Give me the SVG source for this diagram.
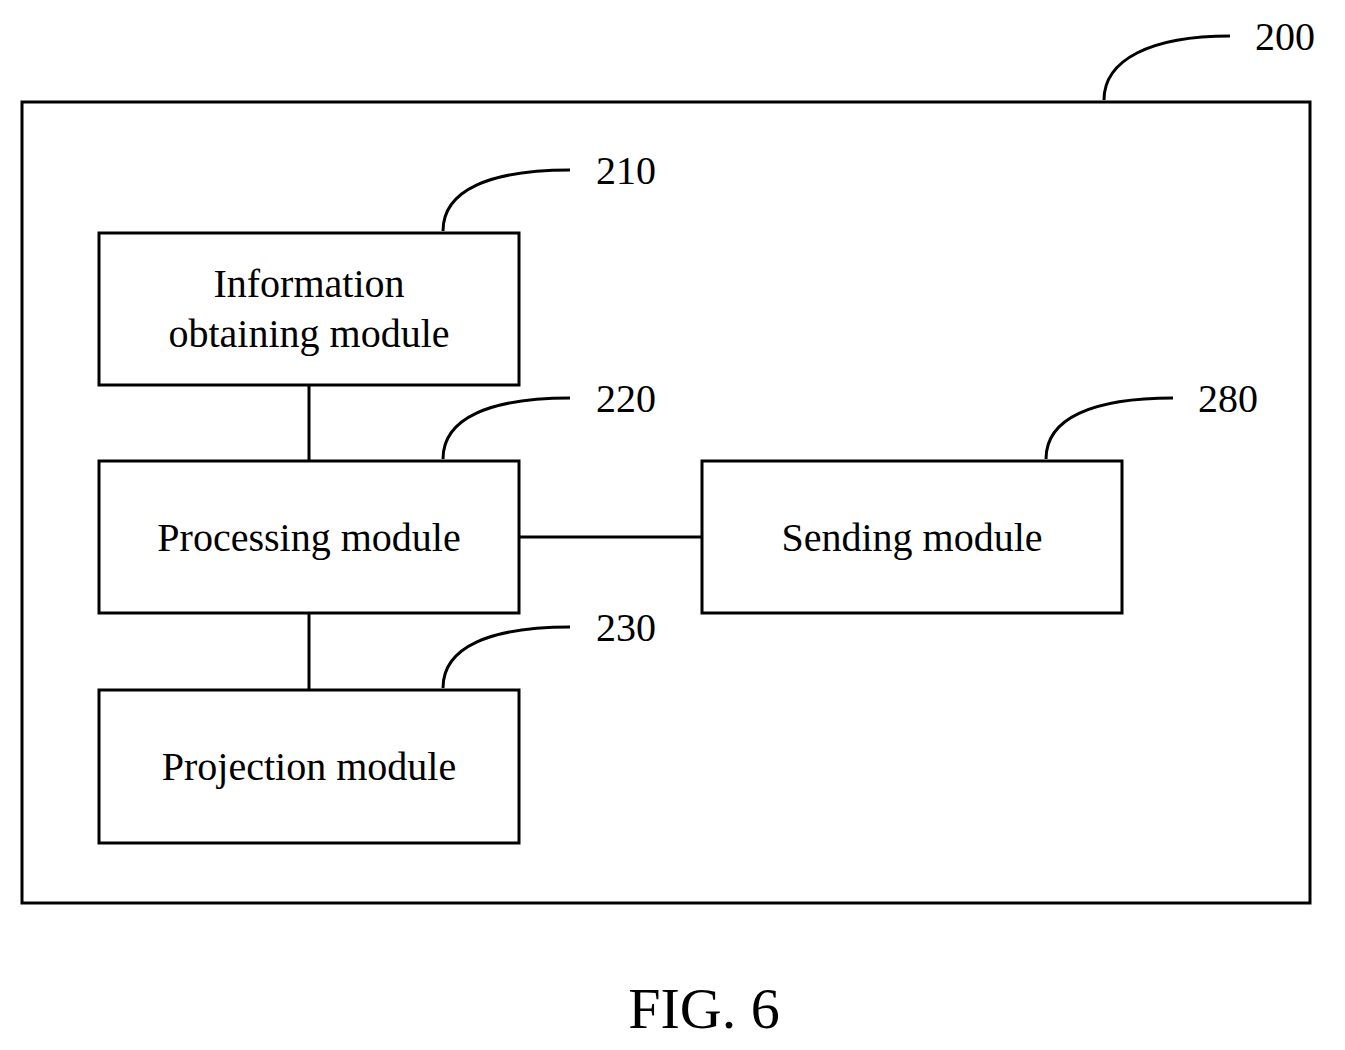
<svg xmlns="http://www.w3.org/2000/svg" width="1345" height="1050" viewBox="0 0 1345 1050">
<style>
.b{fill:#fff;stroke:#000;stroke-width:3}
.l{fill:none;stroke:#000;stroke-width:3}
text{font-family:"Liberation Serif",serif;font-size:40px;fill:#000}
.c{text-anchor:middle}
</style>
<rect width="1345" height="1050" fill="#fff"/>
<g id="outer"><rect class="b" x="22" y="102" width="1288" height="801"/></g>
<g id="connectors">
<line class="l" x1="309" y1="385" x2="309" y2="461"/>
<line class="l" x1="309" y1="613" x2="309" y2="690"/>
<line class="l" x1="519" y1="537" x2="702" y2="537"/>
<path class="l" d="M1104,100 C1104,60 1150,36 1230,36"/>
<path class="l" d="M443,231 C443,190 490,170 570,170"/>
<path class="l" d="M443,459 C443,418 490,398 570,398"/>
<path class="l" d="M443,688 C443,647 490,627 570,627"/>
<path class="l" d="M1046,459 C1046,418 1093,398 1173,398"/>
</g>
<g id="n210"><rect class="b" x="99" y="233" width="420" height="152"/>
<text class="c" x="309" y="297">Information</text><text class="c" x="309" y="347">obtaining module</text></g>
<g id="n220"><rect class="b" x="99" y="461" width="420" height="152"/>
<text class="c" x="309" y="551">Processing module</text></g>
<g id="n230"><rect class="b" x="99" y="690" width="420" height="153"/>
<text class="c" x="309" y="780">Projection module</text></g>
<g id="n280"><rect class="b" x="702" y="461" width="420" height="152"/>
<text class="c" x="912" y="551">Sending module</text></g>
<g id="labels">
<text x="1255" y="50">200</text>
<text x="596" y="184">210</text>
<text x="596" y="412">220</text>
<text x="596" y="641">230</text>
<text x="1198" y="412">280</text>
<text class="c" x="704" y="1028" style="font-size:58px">FIG. 6</text>
</g>
</svg>
